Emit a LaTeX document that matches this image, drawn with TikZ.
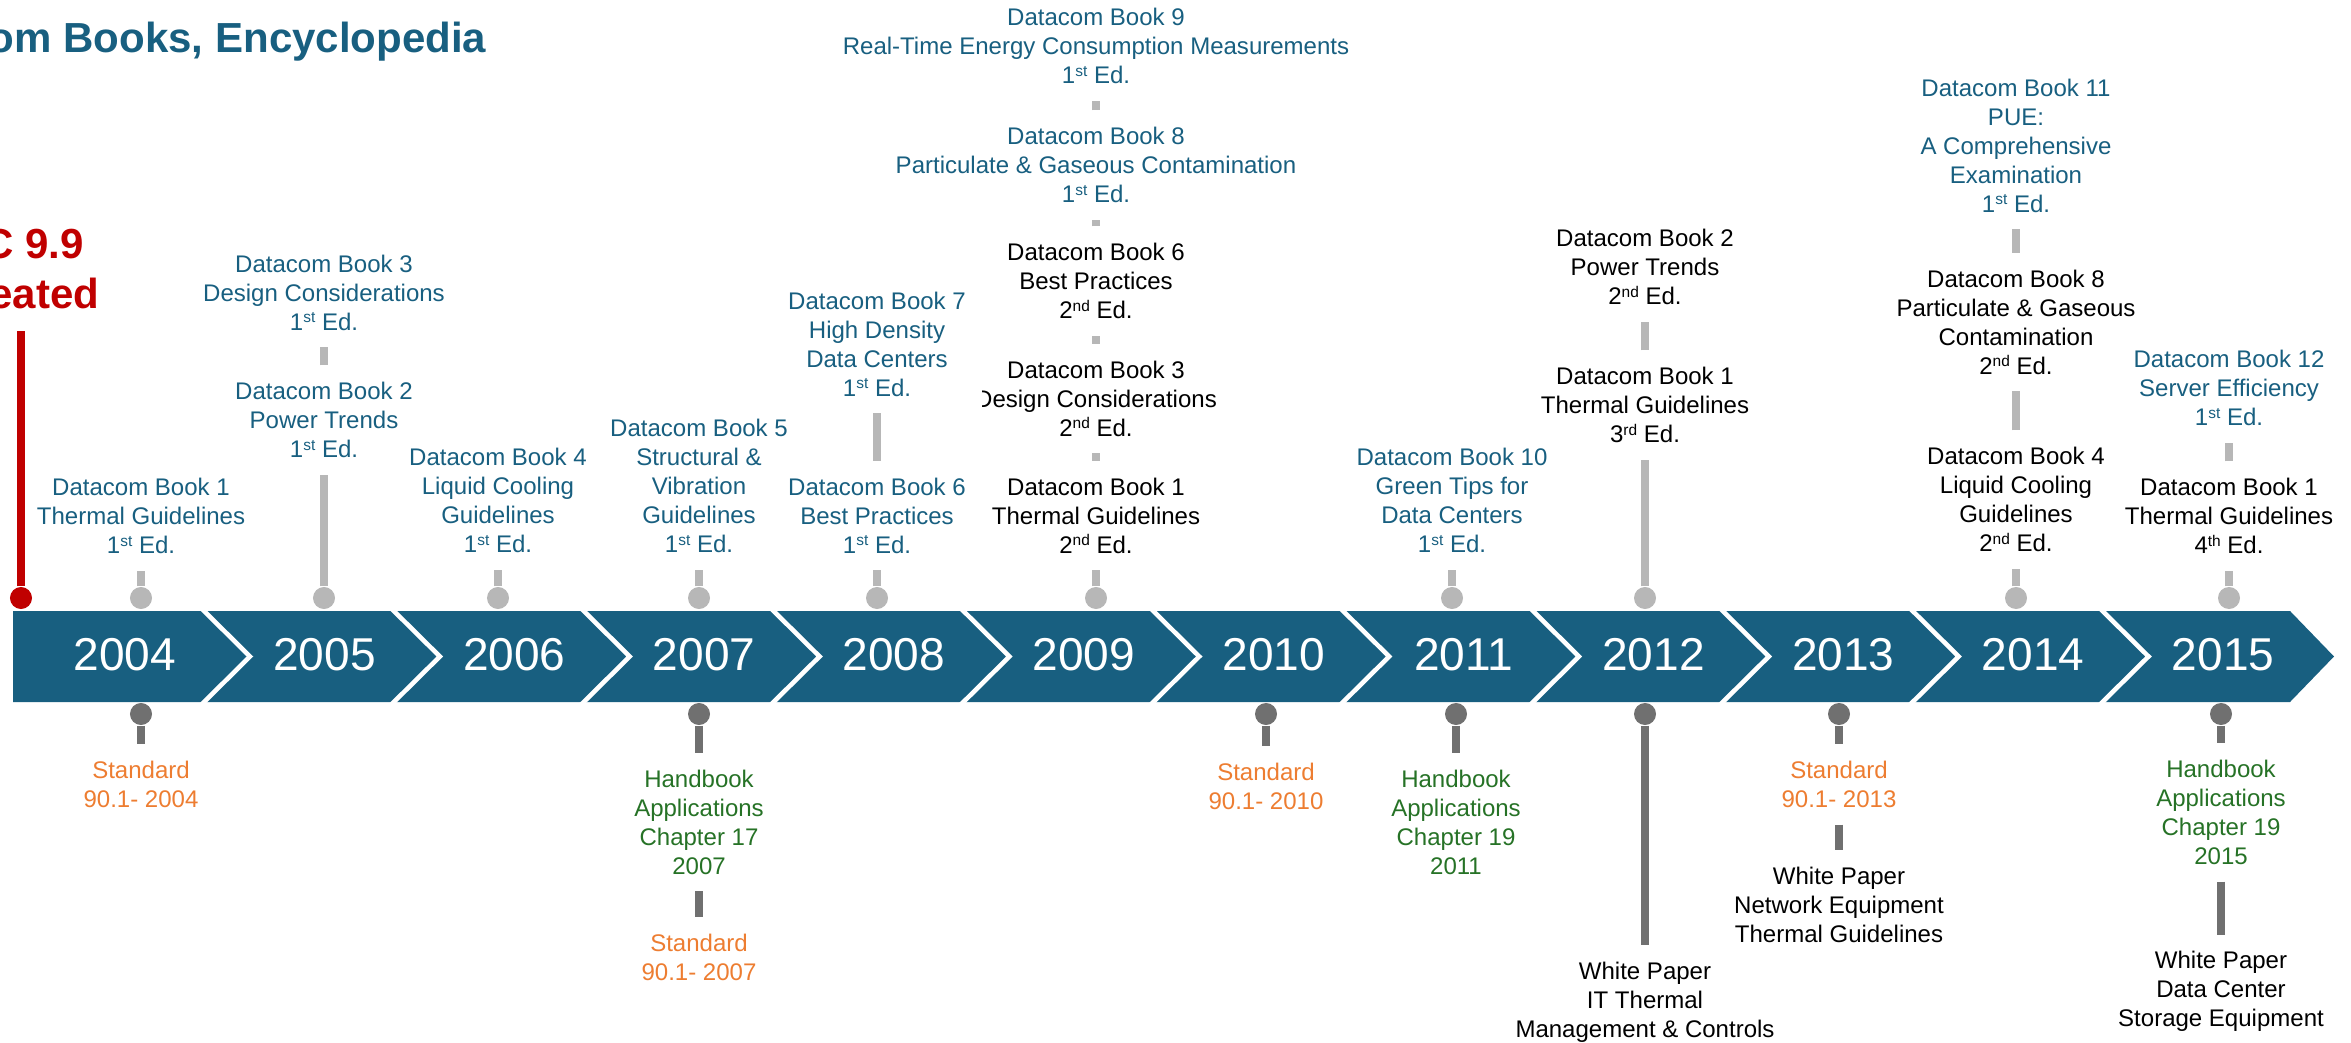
\documentclass[tikz,border=0pt]{standalone}
\usepackage{fontspec}
\setmainfont{Liberation Sans}
\usepackage{xcolor}
\usepackage{tikz}
\definecolor{barblue}{RGB}{24,95,128}
\definecolor{tcred}{RGB}{192,0,0}
\definecolor{stdorange}{RGB}{237,125,49}
\definecolor{hbgreen}{RGB}{38,114,38}
\definecolor{pinlight}{RGB}{183,183,183}
\definecolor{pindark}{RGB}{112,112,112}
\newcommand{\lblsize}{\fontsize{6.83pt}{8.25pt}\selectfont}
\newcommand{\yrsize}{\fontsize{13.1pt}{15.7pt}\selectfont}
\newcommand{\headsize}{\fontsize{11.95pt}{14.2pt}\selectfont}
\newcommand{\edsup}[1]{\raisebox{0.3em}{\fontsize{4.4pt}{5pt}\selectfont #1}}

\begin{document}
\begin{tikzpicture}[x=0.01cm,y=-0.01cm,
    lbl/.style={align=center,inner sep=0.16cm,font=\lblsize},
    toppin/.style={circle,fill=pinlight,inner sep=0pt,minimum size=0.22cm},
    botpin/.style={circle,fill=pindark,inner sep=0pt,minimum size=0.22cm},
    topstem/.style={pinlight,line width=2.1pt},
    botstem/.style={pindark,line width=2.1pt},
    sepline/.style={white,line width=1.3pt,line join=miter}]
    \useasboundingbox (0,0) rectangle (2351,1043);

    % Title
    \node[barblue,font=\headsize\bfseries,anchor=base east,inner sep=0pt] (title) at (487,53) {Datacom Books, Encyclopedia};

    % Chevron bar with the years
    \fill[barblue] (13,611) -- (2290,611) -- (2334,656.5) -- (2290,702) -- (13,702) -- cycle;
    \foreach \k in {0,...,10}
        \draw[sepline] ({200+189.85*\k},607) -- ++(50,49.5) -- ++(-50,49.5);
    \foreach \yr/\xx in {2004/125,2005/324.5,2006/514.3,2007/704.2,2008/894,2009/1083.9,2010/1273.7,2011/1463.6,2012/1653.4,2013/1843.3,2014/2033.1,2015/2223}
        \node[white,font=\yrsize] (y\yr) at (\xx,655) {\yr};

    % TC 9.9 marker
    \node[tcred,font=\headsize\bfseries,align=center,inner sep=0.21cm] (tc99) at (21,269) {TC 9.9\\Created};
    \node[circle,fill=tcred,inner sep=0pt,minimum size=0.22cm] (redpin) at (21,598) {};
    \draw[tcred,line width=2.1pt] (redpin) -- (tc99);

    % 2004
    \node[toppin] (tp04) at (141,598) {};
    \node[lbl,barblue] (dc1e1) at (141,516) {Datacom Book 1\\Thermal Guidelines\\1\edsup{st} Ed.};
    \draw[topstem] (tp04) -- (dc1e1);
    \node[botpin] (bp04) at (141,714) {};
    \node[lbl,stdorange] (std04) at (141,784.5) {Standard\\90.1- 2004};
    \draw[botstem] (bp04) -- (std04);

    % 2005
    \node[toppin] (tp05) at (324,598) {};
    \node[lbl,barblue] (dc2e1) at (324,420) {Datacom Book 2\\Power Trends\\1\edsup{st} Ed.};
    \node[lbl,barblue] (dc3e1) at (324,292.5) {Datacom Book 3\\Design Considerations\\1\edsup{st} Ed.};
    \draw[topstem] (tp05) -- (dc2e1);
    \draw[topstem] (dc2e1) -- (dc3e1);

    % 2006
    \node[toppin] (tp06) at (498,598) {};
    \node[lbl,barblue] (dc4e1) at (498,500.5) {Datacom Book 4\\Liquid Cooling\\Guidelines\\1\edsup{st} Ed.};
    \draw[topstem] (tp06) -- (dc4e1);

    % 2007
    \node[toppin] (tp07) at (699,598) {};
    \node[lbl,barblue] (dc5e1) at (699,486) {Datacom Book 5\\Structural \&\\Vibration\\Guidelines\\1\edsup{st} Ed.};
    \draw[topstem] (tp07) -- (dc5e1);
    \node[botpin] (bp07) at (699,714) {};
    \node[lbl,hbgreen] (hb07) at (699,822) {Handbook\\Applications\\Chapter 17\\2007};
    \node[lbl,stdorange] (std07) at (699,957.5) {Standard\\90.1- 2007};
    \draw[botstem] (bp07) -- (hb07);
    \draw[botstem] (hb07) -- (std07);

    % 2009
    \node[toppin] (tp09) at (1096,598) {};
    \node[lbl] (dc1e2) at (1096,515.5) {Datacom Book 1\\Thermal Guidelines\\2\edsup{nd} Ed.};
    \node[lbl] (dc3e2) at (1096,398.5) {Datacom Book 3\\Design Considerations\\2\edsup{nd} Ed.};
    \node[lbl] (dc6e2) at (1096,281) {Datacom Book 6\\Best Practices\\2\edsup{nd} Ed.};
    \node[lbl,barblue] (dc8e1) at (1096,165) {Datacom Book 8\\Particulate \& Gaseous Contamination\\1\edsup{st} Ed.};
    \node[lbl,barblue] (dc9e1) at (1096,46) {Datacom Book 9\\Real-Time Energy Consumption Measurements\\1\edsup{st} Ed.};
    \draw[topstem] (tp09) -- (dc1e2);
    \draw[topstem] (dc1e2) -- (dc3e2);
    \draw[topstem] (dc3e2) -- (dc6e2);
    \draw[topstem] (dc6e2) -- (dc8e1);
    \draw[topstem] (dc8e1) -- (dc9e1);

    % 2008
    \node[toppin] (tp08) at (877,598) {};
    \node[lbl,barblue] (dc6e1) at (877,515.5) {Datacom Book 6\\Best Practices\\1\edsup{st} Ed.};
    \node[lbl,barblue,fill=white] (dc7e1) at (877,344) {Datacom Book 7\\High Density\\Data Centers\\1\edsup{st} Ed.};
    \draw[topstem] (tp08) -- (dc6e1);
    \draw[topstem] (dc6e1) -- (dc7e1);

    % 2010
    \node[botpin] (bp10) at (1266,714) {};
    \node[lbl,stdorange] (std10) at (1266,786) {Standard\\90.1- 2010};
    \draw[botstem] (bp10) -- (std10);

    % 2011
    \node[toppin] (tp11) at (1452,598) {};
    \node[lbl,barblue] (dc10e1) at (1452,500.5) {Datacom Book 10\\Green Tips for\\Data Centers\\1\edsup{st} Ed.};
    \draw[topstem] (tp11) -- (dc10e1);
    \node[botpin] (bp11) at (1456,714) {};
    \node[lbl,hbgreen] (hb11) at (1456,822) {Handbook\\Applications\\Chapter 19\\2011};
    \draw[botstem] (bp11) -- (hb11);

    % 2012
    \node[toppin] (tp12) at (1645,598) {};
    \node[lbl] (dc1e3) at (1645,405) {Datacom Book 1\\Thermal Guidelines\\3\edsup{rd} Ed.};
    \node[lbl] (dc2e2) at (1645,267) {Datacom Book 2\\Power Trends\\2\edsup{nd} Ed.};
    \draw[topstem] (tp12) -- (dc1e3);
    \draw[topstem] (dc1e3) -- (dc2e2);
    \node[botpin] (bp12) at (1645,714) {};
    \node[lbl] (wp12) at (1645,1002) {White Paper\\IT Thermal\\Management \& Controls};
    \draw[botstem] (bp12) -- (wp12);

    % 2013
    \node[botpin] (bp13) at (1839,714) {};
    \node[lbl,stdorange] (std13) at (1839,784.5) {Standard\\90.1- 2013};
    \node[lbl] (wp13) at (1839,904.5) {White Paper\\Network Equipment\\Thermal Guidelines};
    \draw[botstem] (bp13) -- (std13);
    \draw[botstem] (std13) -- (wp13);

    % 2014
    \node[toppin] (tp14) at (2016,598) {};
    \node[lbl] (dc4e2) at (2016,499.5) {Datacom Book 4\\Liquid Cooling\\Guidelines\\2\edsup{nd} Ed.};
    \node[lbl] (dc8e2) at (2016,322) {Datacom Book 8\\Particulate \& Gaseous\\Contamination\\2\edsup{nd} Ed.};
    \node[lbl,barblue] (dc11e1) at (2016,145.5) {Datacom Book 11\\PUE:\\A Comprehensive\\Examination\\1\edsup{st} Ed.};
    \draw[topstem] (tp14) -- (dc4e2);
    \draw[topstem] (dc4e2) -- (dc8e2);
    \draw[topstem] (dc8e2) -- (dc11e1);

    % 2015
    \node[toppin] (tp15) at (2229,598) {};
    \node[lbl] (dc1e4) at (2229,516) {Datacom Book 1\\Thermal Guidelines\\4\edsup{th} Ed.};
    \node[lbl,barblue] (dc12e1) at (2229,388) {Datacom Book 12\\Server Efficiency\\1\edsup{st} Ed.};
    \draw[topstem] (tp15) -- (dc1e4);
    \draw[topstem] (dc1e4) -- (dc12e1);
    \node[botpin] (bp15) at (2221,714) {};
    \node[lbl,hbgreen] (hb15) at (2221,812.5) {Handbook\\Applications\\Chapter 19\\2015};
    \node[lbl] (wp15) at (2221,991.5) {White Paper\\Data Center\\Storage Equipment};
    \draw[botstem] (bp15) -- (hb15);
    \draw[botstem] (hb15) -- (wp15);
\end{tikzpicture}
\end{document}
